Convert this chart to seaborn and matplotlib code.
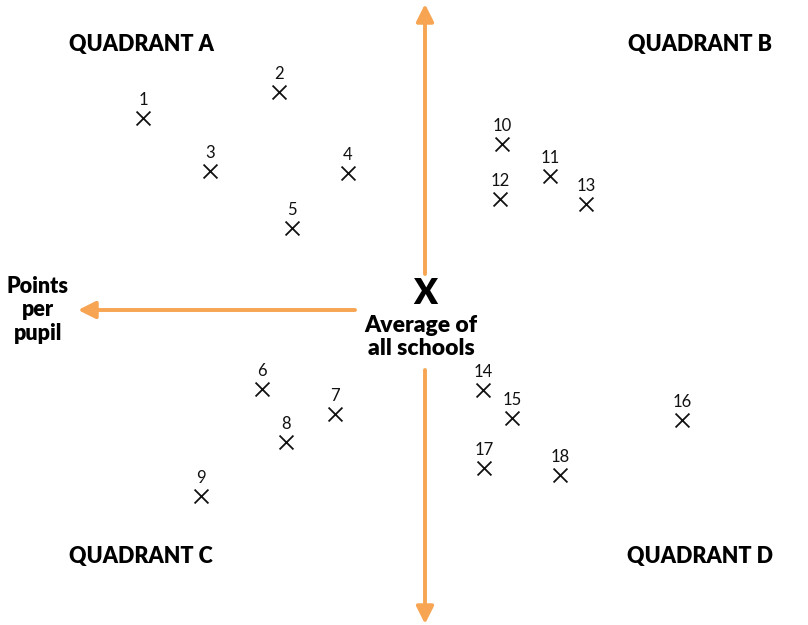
import matplotlib
matplotlib.use("Agg")
import matplotlib.pyplot as plt
import pandas as pd
import seaborn as sns

# school positions relative to the average of all schools
schools = [str(i) for i in range(1, 19)]
x_vals = [-282, -146, -215, -77, -133, -163, -90, -139, -224,
          77, 125, 75, 161, 58, 87, 257, 59, 135]
y_vals = [192, 218, 139, 137, 82, -79, -104, -132, -186,
          166, 134, 111, 106, -80, -108, -110, -158, -165]
quadrants = ["QUADRANT A", "QUADRANT B", "QUADRANT C", "QUADRANT D"]

df = pd.DataFrame({"school": schools, "x": x_vals, "y": y_vals})

sns.set_theme(style="white")
plt.rcParams["font.family"] = ["Lato", "DejaVu Sans"]
plt.rcParams["text.color"] = "black"

orange = "#F7A552"
fig = plt.figure(figsize=(8.08, 6.25), dpi=100)
ax = fig.add_axes([0, 0, 1, 1])
ax.set_xlim(-425, 383)
ax.set_ylim(-315, 310)
ax.axis("off")

sns.scatterplot(data=df, x="x", y="y", marker="x", s=100, color="#111111",
                linewidth=1.3, ax=ax, legend=False)
for _, row in df.iterrows():
    ax.text(row.x, row.y + 18, row.school, ha="center", va="center",
            fontsize=12, color="#111111")

# axes arrows
arrows = [((-70, 0), (-347, 0)), ((72, 0), (384, 0)),
          ((0, 36), (0, 306)), ((0, -60), (0, -314))]
for start, end in arrows:
    ax.annotate("", xy=end, xytext=start,
                arrowprops=dict(arrowstyle="-|>", color=orange, lw=2.8,
                                mutation_scale=26, shrinkA=0, shrinkB=0))

ax.text(0, 16, "X", ha="center", va="center", fontsize=25,
        fontweight="heavy")
ax.text(-4, -27, "Average of\nall schools", ha="center", va="center",
        fontsize=16.5, fontweight="heavy", linespacing=1.15)
ax.text(-387, 0, "Points\nper\npupil", ha="center", va="center",
        fontsize=15.5, fontweight="heavy", linespacing=1.17)

quad_pos = [(-284, 266), (275, 266), (-284, -247), (275, -247)]
for label, (qx, qy) in zip(quadrants, quad_pos):
    ax.text(qx, qy, label, ha="center", va="center", fontsize=15.5,
            fontweight="heavy")

fig.savefig("out.png", dpi=100)
